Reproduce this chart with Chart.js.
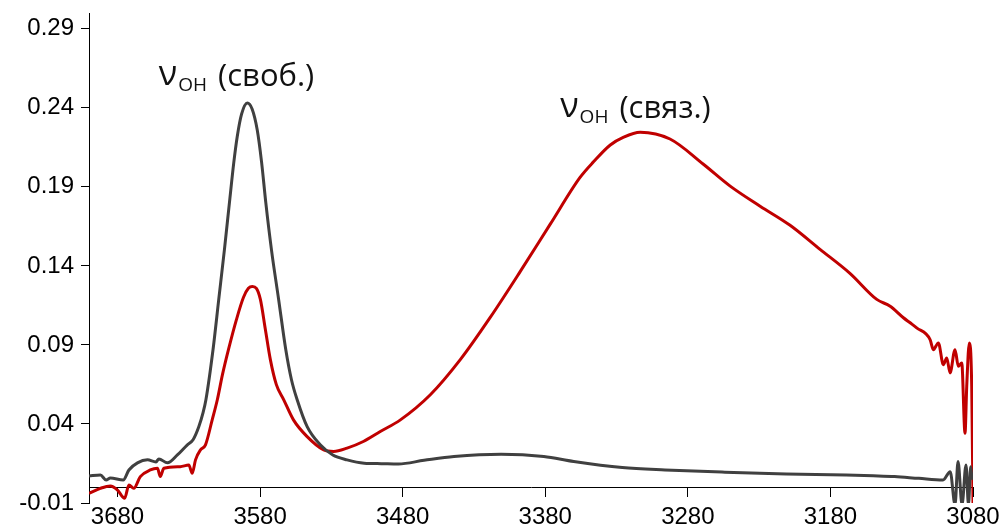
<!DOCTYPE html>
<html lang="ru">
<head>
<meta charset="UTF-8">
<title>ИК-спектр ОН</title>
<style>
  html, body { margin: 0; padding: 0; background: #fff; }
  #wrap { width: 1003px; height: 528px; position: relative; }
</style>
</head>
<body>
<div id="wrap"><canvas id="chart"></canvas></div>
<script src="https://cdn.jsdelivr.net/npm/chart.js"></script>
<script>
// wavenumbers (cm-1) and absorbance
const blackWn = [3700, 3692, 3688, 3685, 3676, 3672, 3666, 3659, 3653, 3651, 3645, 3638, 3631, 3627, 3623, 3620,
  3618, 3613, 3609, 3605, 3601.5, 3598.5, 3596, 3593, 3589, 3585.6, 3582, 3579, 3576, 3572, 3567, 3562,
  3558, 3554, 3547, 3538, 3529, 3519, 3507, 3495, 3483, 3465, 3444, 3411, 3381, 3360, 3326, 3296, 3254, 3211,
  3169, 3150, 3135, 3118, 3101, 3096, 3092.6, 3090.5, 3087.7, 3084.9, 3083.2, 3081.6, 3080.7];
const blackAbs = [0.0071, 0.0077, 0.0046, 0.0058, 0.0046, 0.0109, 0.0154, 0.0173, 0.016, 0.0179, 0.0154, 0.0204, 0.0268, 0.03, 0.0382, 0.0471,
  0.0553, 0.0871, 0.1188, 0.1505, 0.18, 0.205, 0.222, 0.236, 0.2431, 0.2393, 0.226, 0.206, 0.18, 0.15, 0.1188, 0.0871,
  0.068, 0.0553, 0.0383, 0.027, 0.0204, 0.0173, 0.0152, 0.0149, 0.0147, 0.017, 0.0194, 0.0209, 0.0194, 0.0162, 0.0124, 0.0109, 0.0095, 0.0084,
  0.0077, 0.0072, 0.0067, 0.0056, 0.0046, 0.0098, -0.011, 0.0162, -0.011, 0.014, -0.011, 0.013, 0.0046];

const redWn = [3700, 3692, 3685, 3680, 3675, 3672, 3668.6, 3664, 3657, 3652, 3650, 3647.5, 3636, 3630, 3627.6, 3625.3,
  3621.8, 3618.3, 3613.6, 3610, 3606.4, 3602.2, 3596.6, 3591.7, 3588.2, 3585.4, 3582.6, 3579.8, 3576.3, 3572.8, 3568.6,
  3563.4, 3556.6, 3547, 3535.4, 3528.4, 3519, 3507.6, 3495.7, 3481.6, 3460.6, 3439.6, 3418.6, 3397.5, 3376.5, 3355.6,
  3346, 3334.4, 3325, 3313.4, 3292.5, 3269.3, 3250.3, 3229.3, 3208.3, 3187.3, 3166.3, 3147.5, 3138.1, 3128.8, 3124.1, 3119.5,
  3110.1, 3107.8, 3104.3, 3100.8, 3098.4, 3096.1, 3092.6, 3090.3, 3087.9, 3085.6, 3084.4, 3082.6, 3080.9, 3080];
const redAbs = [-0.0039, -0.0007, 0.0008, -0.0018, -0.007, 0.0014, -0.0007, 0.0067, 0.0109, 0.012, 0.0067, 0.012, 0.013, 0.014, 0.0088, 0.0173,
  0.0236, 0.0268, 0.0426, 0.0553, 0.0712, 0.087, 0.106, 0.12, 0.1258, 0.127, 0.1258, 0.1188, 0.0998, 0.0807, 0.0649,
  0.0553, 0.0426, 0.032, 0.0236, 0.0226, 0.0247, 0.0289, 0.0352, 0.0426, 0.0585, 0.0807, 0.1074, 0.1365, 0.1664, 0.196,
  0.206, 0.2165, 0.2215, 0.2246, 0.2203, 0.2045, 0.1905, 0.1778, 0.1657, 0.1505, 0.1353, 0.1188, 0.1145, 0.1072, 0.104, 0.1008,
  0.0934, 0.087, 0.0913, 0.0775, 0.0818, 0.0723, 0.087, 0.0765, 0.0786, 0.0342, 0.0638, 0.0913, 0.0638, -0.011];

const xTicks = [3680, 3580, 3480, 3380, 3280, 3180, 3080];
const yTicks = [-0.01, 0.04, 0.09, 0.14, 0.19, 0.24, 0.29];

const toPoints = (xs, ys) => xs.map((x, i) => ({ x: x, y: ys[i] }));

// peak labels: ν + subscript OH + text, anchored to data coords
const peakLabels = [
  { x: 3651, y: 0.2546, text: ' (своб.)' },
  { x: 3369.5, y: 0.2342, text: ' (связ.)' }
];

const labelPlugin = {
  id: 'peakLabels',
  afterDatasetsDraw(chart) {
    const ctx = chart.ctx;
    const sx = chart.scales.x, sy = chart.scales.y;
    ctx.save();
    ctx.fillStyle = '#111';
    ctx.textBaseline = 'alphabetic';
    peakLabels.forEach(l => {
      let px = sx.getPixelForValue(l.x);
      const py = sy.getPixelForValue(l.y);
      ctx.font = '34px "Open Sans"';
      ctx.fillText('ν', px, py);
      px += ctx.measureText('ν').width + 1;
      ctx.font = '19px "Open Sans"';
      ctx.fillText('OH', px, py + 6);
      px += ctx.measureText('OH').width;
      ctx.font = '31px "Open Sans"';
      ctx.fillText(l.text, px + 3, py + 1);
    });
    ctx.restore();
  }
};

const setTicks = list => scale => { scale.ticks = list.map(v => ({ value: v })); };
const tickFont = { family: '"Liberation Sans", Arial, sans-serif', size: 24 };

new Chart(document.getElementById('chart'), {
  type: 'line',
  data: {
    datasets: [
      {
        label: 'black',
        data: toPoints(blackWn, blackAbs),
        borderColor: '#404040',
        borderWidth: 3,
        pointRadius: 0,
        cubicInterpolationMode: 'monotone'
      },
      {
        label: 'red',
        data: toPoints(redWn, redAbs),
        borderColor: '#C00000',
        borderWidth: 3,
        pointRadius: 0,
        cubicInterpolationMode: 'monotone'
      }
    ]
  },
  options: {
    responsive: true,
    maintainAspectRatio: false,
    animation: false,
    layout: { padding: { top: 13, right: 30, left: 0, bottom: 0 } },
    plugins: { legend: { display: false }, tooltip: { enabled: false } },
    scales: {
      x: {
        type: 'linear',
        min: 3080,
        max: 3700,
        reverse: true,
        afterBuildTicks: setTicks(xTicks),
        afterFit: s => { s.height = 25; s.paddingLeft = 0; s.paddingRight = 0; },
        grid: { display: false, drawTicks: false },
        border: { display: false },
        ticks: { color: '#000', font: tickFont, padding: 0, maxRotation: 0, autoSkip: false, callback: v => String(v) }
      },
      xZero: {
        type: 'linear',
        position: { y: 0 },
        min: 3080,
        max: 3700,
        reverse: true,
        afterBuildTicks: setTicks(xTicks),
        grid: { drawOnChartArea: false, drawTicks: true, tickLength: 9, color: '#000' },
        border: { color: '#000', width: 1 },
        ticks: { display: false }
      },
      y: {
        min: -0.01,
        max: 0.30,
        afterBuildTicks: setTicks(yTicks),
        afterFit: s => { s.width = 89; s.paddingTop = 0; s.paddingBottom = 0; },
        grid: { drawOnChartArea: false, drawTicks: true, tickLength: 8, color: '#000' },
        border: { color: '#000', width: 1 },
        ticks: { color: '#000', font: tickFont, padding: 7, callback: v => v.toFixed(2) }
      }
    }
  },
  plugins: [labelPlugin]
});
</script>
</body>
</html>
